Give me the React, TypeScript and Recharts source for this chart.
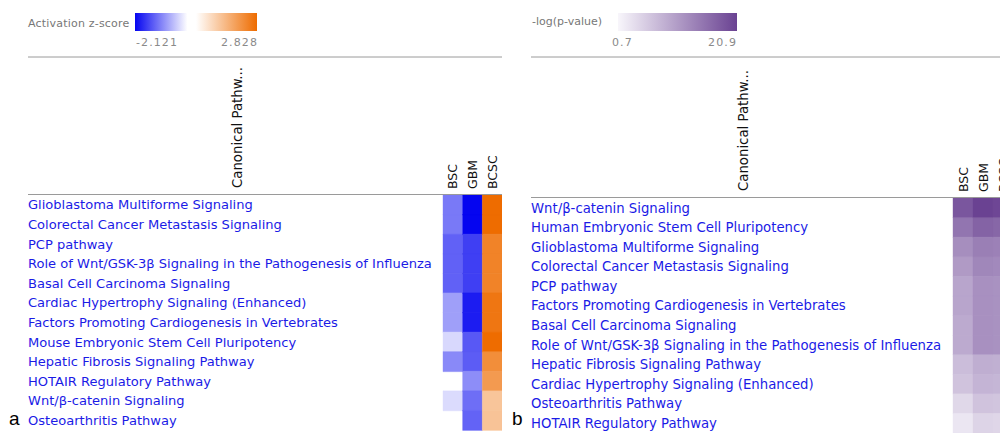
import React from "react";
import { BarChart, Bar, XAxis, YAxis, Cell } from "recharts";

// ---------- Panel a: activation z-score ----------
const PATHWAYS_A = [
  "Glioblastoma Multiforme Signaling",
  "Colorectal Cancer Metastasis Signaling",
  "PCP pathway",
  "Role of Wnt/GSK-3β Signaling in the Pathogenesis of Influenza",
  "Basal Cell Carcinoma Signaling",
  "Cardiac Hypertrophy Signaling (Enhanced)",
  "Factors Promoting Cardiogenesis in Vertebrates",
  "Mouse Embryonic Stem Cell Pluripotency",
  "Hepatic Fibrosis Signaling Pathway",
  "HOTAIR Regulatory Pathway",
  "Wnt/β-catenin Signaling",
  "Osteoarthritis Pathway",
];
const BSC_Z: (number | null)[] = [-1.134, -1.134, -1.342, -1.342, -1.342, -0.816, -0.816, -0.333, -1.0, null, -0.302, null];
const GBM_Z: (number | null)[] = [-2.121, -2.121, -1.633, -1.633, -1.633, -1.922, -1.922, -1.414, -1.387, -0.97, -1.234, -1.32];
const BCSC_Z: (number | null)[] = [2.828, 2.828, 2.38, 2.38, 2.38, 2.63, 2.63, 2.828, 2.18, 1.94, 1.12, 1.15];
const Z_MIN = -2.121;
const Z_MAX = 2.828;

// ---------- Panel b: -log(p-value) ----------
const PATHWAYS_B = [
  "Wnt/β-catenin Signaling",
  "Human Embryonic Stem Cell Pluripotency",
  "Glioblastoma Multiforme Signaling",
  "Colorectal Cancer Metastasis Signaling",
  "PCP pathway",
  "Factors Promoting Cardiogenesis in Vertebrates",
  "Basal Cell Carcinoma Signaling",
  "Role of Wnt/GSK-3β Signaling in the Pathogenesis of Influenza",
  "Hepatic Fibrosis Signaling Pathway",
  "Cardiac Hypertrophy Signaling (Enhanced)",
  "Osteoarthritis Pathway",
  "HOTAIR Regulatory Pathway",
];
const BSC_P: (number | null)[] = [18.6, 15.2, 12.4, 11.0, 9.8, 9.8, 9.2, 9.2, 7.1, 6.4, 4.1, 2.5];
const GBM_P: (number | null)[] = [20.9, 17.2, 14.1, 13.2, 12.1, 12.1, 12.1, 12.1, 8.8, 8.1, 6.4, 4.5];
const BCSC_P: (number | null)[] = [20.4, 16.8, 13.8, 12.9, 11.9, 11.9, 11.9, 11.9, 8.6, 7.9, 6.2, 4.3];
const P_MIN = 0.7;
const P_MAX = 20.9;

const COLUMNS = ["BSC", "GBM", "BCSC"];
const COL_TICKS = [0.5, 1.5, 2.5];

// ---------- colours ----------
const WHITE = [255, 255, 255];
const BLUE = [5, 5, 240];
const ORANGE = [238, 108, 0];
const P_LOW = [248, 246, 251];
const P_HIGH = [106, 66, 146];

function mix(a: number[], b: number[], t: number) {
  const c = a.map((v, i) => Math.round(v + (b[i] - v) * t));
  return `rgb(${c[0]},${c[1]},${c[2]})`;
}
function zColor(z: number | null) {
  if (z === null) return "transparent";
  if (z < 0) return mix(WHITE, BLUE, Math.min(1, z / Z_MIN));
  return mix(WHITE, ORANGE, Math.min(1, z / Z_MAX));
}
function pColor(p: number | null) {
  if (p === null) return "transparent";
  return mix(P_LOW, P_HIGH, (p - P_MIN) / (P_MAX - P_MIN));
}

const LABEL_FONT = "'DejaVu Sans', Verdana, sans-serif";
const LINK_BLUE = "#1b1be6";

const buildRows = (names: string[]) =>
  names.map((name) => ({ name, c0: 1, c1: 1, c2: 1 }));

const RowTick = (props: any) => {
  const { y, payload, fs } = props;
  return (
    <text x={28} y={y} dy="0.36em" textAnchor="start" fill={LINK_BLUE} fontSize={fs} fontFamily={LABEL_FONT}>
      {payload.value}
    </text>
  );
};

const ColTick = (props: any) => {
  const { x, payload } = props;
  const yy = 189;
  const label = COLUMNS[Math.floor(payload.value)];
  return (
    <text
      x={x}
      y={yy}
      dy="0.36em"
      textAnchor="start"
      transform={`rotate(-90, ${x}, ${yy})`}
      fill="#111"
      fontSize={12.5}
      fontFamily={LABEL_FONT}
    >
      {label}
    </text>
  );
};

function Heatmap(props: {
  names: string[];
  cols: (number | null)[][];
  color: (v: number | null) => string;
  width: number;
  yAxisWidth: number;
  fs: number;
}) {
  const data = buildRows(props.names);
  const keys = ["c0", "c1", "c2"];
  return (
    <BarChart
      width={props.width}
      height={433}
      data={data}
      layout="vertical"
      barCategoryGap={0}
      barGap={0}
      margin={{ top: 135, right: 0, bottom: 3, left: 0 }}
    >
      <XAxis
        type="number"
        orientation="top"
        domain={[0, 3]}
        ticks={COL_TICKS}
        height={60}
        axisLine={false}
        tickLine={false}
        tick={<ColTick />}
        interval={0}
      />
      <YAxis
        type="category"
        dataKey="name"
        width={props.yAxisWidth}
        axisLine={false}
        tickLine={false}
        interval={0}
        tick={<RowTick fs={props.fs} />}
      />
      {keys.map((k, ci) => (
        <Bar key={k} dataKey={k} stackId="s" isAnimationActive={false}>
          {data.map((_, ri) => {
            const f = props.color(props.cols[ci][ri]);
            return <Cell key={ri} fill={f} stroke={f} strokeWidth={0.4} />;
          })}
        </Bar>
      ))}
    </BarChart>
  );
}

export default function App() {
  const grey = "#8a8a8a";
  const legendText = { fontSize: 11, fontFamily: LABEL_FONT, letterSpacing: 1.1 } as const;
  return (
    <div
      style={{
        position: "fixed",
        left: 0,
        top: 0,
        width: 1000,
        height: 433,
        overflow: "hidden",
        background: "#fff",
      }}
    >
      <div style={{ position: "absolute", left: 0, top: 0 }}>
        <Heatmap names={PATHWAYS_A} cols={[BSC_Z, GBM_Z, BCSC_Z]} color={zColor} width={502} yAxisWidth={443} fs={13.05} />
      </div>
      <div style={{ position: "absolute", left: 503, top: 3 }}>
        <Heatmap names={PATHWAYS_B} cols={[BSC_P, GBM_P, BCSC_P]} color={pColor} width={510} yAxisWidth={450} fs={13.25} />
      </div>
      <svg
        width={1000}
        height={433}
        style={{ position: "absolute", left: 0, top: 0, pointerEvents: "none" }}
      >
        <defs>
          <linearGradient id="zgrad" x1="0" x2="1" y1="0" y2="0">
            <stop offset="0" stopColor="rgb(5,5,240)" />
            <stop offset="0.43" stopColor="#fff" />
            <stop offset="0.5" stopColor="#fff" />
            <stop offset="1" stopColor="rgb(238,108,0)" />
          </linearGradient>
          <linearGradient id="pgrad" x1="0" x2="1" y1="0" y2="0">
            <stop offset="0" stopColor="rgb(248,246,251)" />
            <stop offset="1" stopColor="rgb(106,66,146)" />
          </linearGradient>
        </defs>

        {/* panel a header */}
        <text x={28} y={27} fill="#777" {...legendText} letterSpacing={0.2}>Activation z-score</text>
        <rect x={135} y={13} width={122} height={18} fill="url(#zgrad)" />
        <text x={136} y={46} fill={grey} {...legendText}>-2.121</text>
        <text x={258} y={46} fill={grey} {...legendText} textAnchor="end">2.828</text>
        <line x1={28} x2={502} y1={57} y2={57} stroke="#9a9a9a" strokeWidth={1} />
        <text x={242} y={188} transform="rotate(-90, 242, 188)" fontSize={13.3} fill="#111" fontFamily={LABEL_FONT}>Canonical Pathw...</text>
        <line x1={28} x2={502} y1={194.5} y2={194.5} stroke="#9a9a9a" strokeWidth={1} />
        <text x={9} y={425} fontSize={19} fill="#000" fontFamily="'Liberation Sans', Arial, sans-serif">a</text>

        {/* panel b header */}
        <text x={532} y={25} fill="#777" {...legendText} letterSpacing={0}>-log(p-value)</text>
        <rect x={618} y={13} width={119} height={18} fill="url(#pgrad)" />
        <text x={612} y={46} fill={grey} {...legendText}>0.7</text>
        <text x={737} y={46} fill={grey} {...legendText} textAnchor="end">20.9</text>
        <line x1={531} x2={1000} y1={57} y2={57} stroke="#9a9a9a" strokeWidth={1} />
        <text x={748} y={191} transform="rotate(-90, 748, 191)" fontSize={13.3} fill="#111" fontFamily={LABEL_FONT}>Canonical Pathw...</text>
        <line x1={531} x2={1000} y1={197.5} y2={197.5} stroke="#9a9a9a" strokeWidth={1} />
        <text x={512} y={425} fontSize={19} fill="#000" fontFamily="'Liberation Sans', Arial, sans-serif">b</text>
      </svg>
    </div>
  );
}
